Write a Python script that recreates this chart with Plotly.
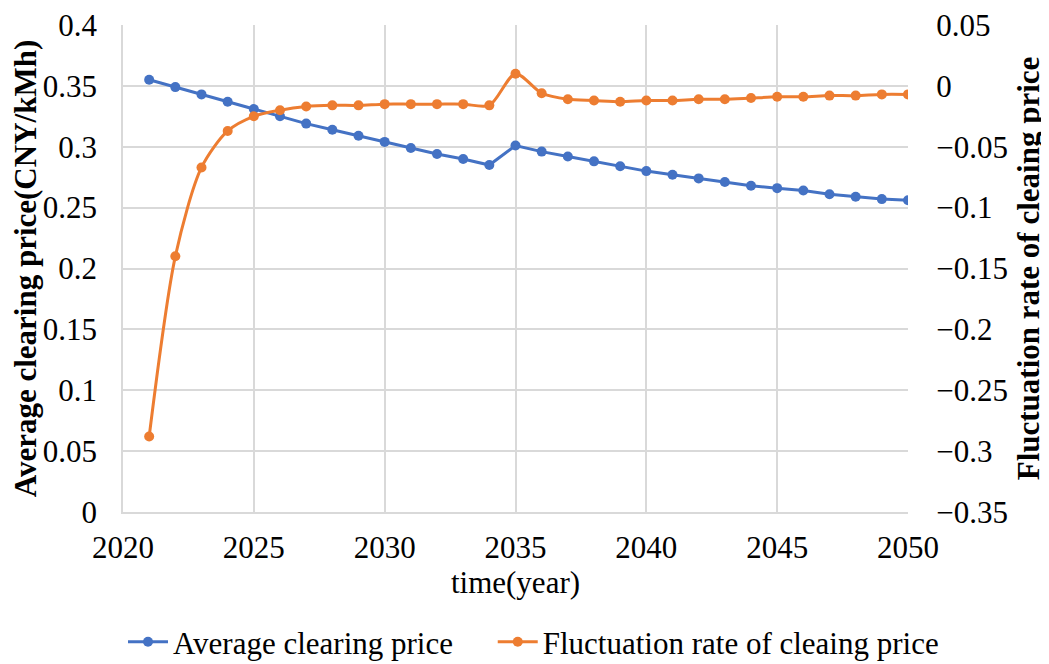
import plotly.graph_objects as go

years = list(range(2021, 2051))

avg_price = [
    0.355, 0.349, 0.343, 0.337, 0.331, 0.325, 0.319, 0.314, 0.309, 0.304,
    0.299, 0.294, 0.290, 0.285, 0.301, 0.296, 0.292, 0.288, 0.284, 0.280,
    0.277, 0.274, 0.271, 0.268, 0.266, 0.264, 0.261, 0.259, 0.257, 0.256,
]

fluct_rate = [
    -0.288, -0.140, -0.067, -0.037, -0.025, -0.020, -0.017, -0.016, -0.016, -0.015,
    -0.015, -0.015, -0.015, -0.016, 0.010, -0.006, -0.011, -0.012, -0.013, -0.012,
    -0.012, -0.011, -0.011, -0.010, -0.009, -0.009, -0.008, -0.008, -0.007, -0.007,
]

blue = '#4472C4'
orange = '#ED7D31'
serif = "Liberation Serif"
tick_font = dict(family=serif, size=31, color='black')
title_font = dict(family=serif, size=31, color='black')
legend_font = dict(family=serif, size=31, color='black')
hidden_tick = 'rgba(0,0,0,0)'

fig = go.Figure()

fig.add_trace(go.Scatter(
    x=years, y=avg_price,
    name='Average clearing price',
    mode='lines+markers',
    line=dict(color=blue, width=3),
    marker=dict(color=blue, size=10),
    yaxis='y',
    legend='legend',
    showlegend=True,
))

fig.add_trace(go.Scatter(
    x=years, y=fluct_rate,
    name='Fluctuation rate of cleaing price',
    mode='lines+markers',
    line=dict(color=orange, width=3, shape='spline', smoothing=0.8),
    marker=dict(color=orange, size=10),
    yaxis='y2',
    legend='legend2',
    showlegend=True,
))

# page has an 8px body margin, so the figure sits at (8, 8) in the window;
# figure is made a bit taller than the window so the legend never pushes margins
fig.update_layout(
    width=1049,
    height=700,
    margin=dict(l=115, r=149, t=17, b=196),
    showlegend=True,
    plot_bgcolor='white',
    paper_bgcolor='white',
    font=dict(family=serif, color='black', size=22),
    xaxis=dict(
        range=[2020, 2050],
        dtick=5,
        tick0=2020,
        showgrid=True,
        gridcolor='#d9d9d9',
        gridwidth=1.5,
        showline=True,
        linecolor='#d9d9d9',
        linewidth=1.5,
        zeroline=False,
        ticks='outside',
        ticklen=7,
        tickcolor=hidden_tick,
        tickfont=tick_font,
        ticklabeloverflow='allow',
        automargin=False,
        title=dict(text='time(year)', font=title_font, standoff=7),
    ),
    yaxis=dict(
        range=[0, 0.4],
        dtick=0.05,
        showgrid=True,
        gridcolor='#d9d9d9',
        gridwidth=1.5,
        showline=True,
        linecolor='#d9d9d9',
        linewidth=1.5,
        zeroline=False,
        ticks='outside',
        ticklen=18,
        tickcolor=hidden_tick,
        tickfont=tick_font,
        ticklabeloverflow='allow',
        automargin=False,
        title=dict(text='<b>Average clearing price(CNY/kMh)</b>', font=title_font, standoff=9),
    ),
    yaxis2=dict(
        range=[-0.35, 0.05],
        dtick=0.05,
        overlaying='y',
        side='right',
        showgrid=False,
        showline=False,
        zeroline=False,
        ticks='outside',
        ticklen=21,
        tickcolor=hidden_tick,
        tickfont=tick_font,
        ticklabeloverflow='allow',
        automargin=False,
        title=dict(text='<b>Fluctuation rate of cleaing price</b>', font=title_font, standoff=10),
    ),
    legend=dict(
        orientation='h',
        x=0.0, xanchor='left',
        y=-0.267, yanchor='middle',
        font=legend_font,
        itemwidth=40,
        visible=True,
    ),
    legend2=dict(
        orientation='h',
        x=0.471, xanchor='left',
        y=-0.267, yanchor='middle',
        font=legend_font,
        itemwidth=40,
        visible=True,
    ),
)

fig.write_html("out.html")
